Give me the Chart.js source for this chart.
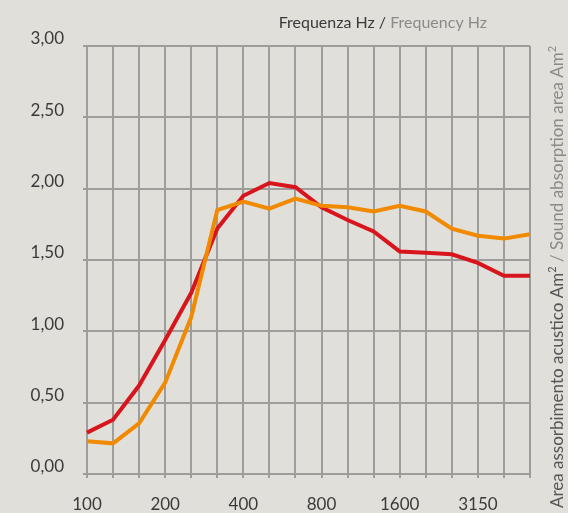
<!DOCTYPE html>
<html>
<head>
<meta charset="utf-8">
<script src="https://cdn.jsdelivr.net/npm/chart.js@4/dist/chart.umd.min.js"></script>
<style>
  html, body { margin: 0; padding: 0; background: #e0dfda; }
  #wrap { width: 568px; height: 513px; position: relative; }
</style>
</head>
<body>
<div id="wrap"><canvas id="chart"></canvas></div>
<script>
// frequenze terzi d'ottava
var frequenze = ["100", "125", "160", "200", "250", "315", "400", "500", "630",
  "800", "1000", "1250", "1600", "2000", "2500", "3150", "4000", "5000"];
var etichette = ["100", "200", "400", "800", "1600", "3150"];
var rosso = [0.29, 0.38, 0.62, 0.94, 1.27, 1.72, 1.95, 2.04, 2.01, 1.87, 1.78, 1.70,
  1.56, 1.55, 1.54, 1.48, 1.39, 1.39];
var arancio = [0.23, 0.215, 0.355, 0.64, 1.10, 1.85, 1.91, 1.86, 1.93, 1.88, 1.87, 1.84,
  1.88, 1.84, 1.72, 1.67, 1.65, 1.68];

var font = "Lato, 'DejaVu Sans', sans-serif";
var grigio = "#9d9d9b";

var titoli = {
  id: "titoli",
  afterDraw: function (chart) {
    var ctx = chart.ctx;
    ctx.save();
    ctx.font = "16px " + font;
    ctx.textBaseline = "alphabetic";
    // titolo in alto a destra
    var a = "Frequenza Hz / ", b = "Frequency Hz";
    var wa = ctx.measureText(a).width, wb = ctx.measureText(b).width;
    var x0 = 487 - wa - wb;
    ctx.fillStyle = "#3a3a3a";
    ctx.fillText(a, x0, 28);
    ctx.fillStyle = "#8a8a88";
    ctx.fillText(b, x0 + wa, 28);

    // titolo verticale a destra
    ctx.translate(563, 277);
    ctx.rotate(-Math.PI / 2);
    var parti = [
      ["Area assorbimento acustico Am", "#555", false],
      ["2", "#555", true],
      [" / Sound absorption area Am", "#8a8a88", false],
      ["2", "#8a8a88", true]
    ];
    var tot = 0;
    parti.forEach(function (p) {
      ctx.font = (p[2] ? "11px " : "17px ") + font;
      tot += ctx.measureText(p[0]).width;
    });
    var x = -tot / 2;
    parti.forEach(function (p) {
      ctx.font = (p[2] ? "11px " : "17px ") + font;
      ctx.fillStyle = p[1];
      ctx.fillText(p[0], x, p[2] ? -7 : 0);
      x += ctx.measureText(p[0]).width;
    });
    ctx.restore();
  }
};

var ctx = document.getElementById("chart").getContext("2d");
var myChart = new Chart(ctx, {
  type: "line",
  data: {
    labels: frequenze,
    datasets: [
      {
        label: "arancio",
        data: arancio,
        borderColor: "#f18a00",
        borderWidth: 4,
        pointRadius: 0,
        tension: 0,
        fill: false,
      },
      {
        label: "rosso",
        data: rosso,
        borderColor: "#d8141c",
        borderWidth: 4,
        pointRadius: 0,
        tension: 0,
        fill: false,
      },
    ],
  },
  options: {
    responsive: true,
    maintainAspectRatio: false,
    animation: false,
    layout: { padding: { top: 46, right: 38, left: 0, bottom: 0 } },
    plugins: { legend: { display: false }, tooltip: { enabled: false } },
    scales: {
      x: {
        grid: { color: grigio, lineWidth: 2, tickLength: 4, drawTicks: true },
        border: { color: grigio, width: 2 },
        afterFit: function (s) { s.height = 39; },
        ticks: {
          autoSkip: false,
          maxRotation: 0,
          padding: 16,
          color: "#3a3a3a",
          font: { family: font, size: 17 },
          callback: function (v, i) {
            var f = frequenze[i];
            return etichette.indexOf(f) >= 0 ? f : "";
          },
        },
      },
      y: {
        min: 0,
        max: 3,
        grid: { color: grigio, lineWidth: 2, tickLength: 4 },
        border: { color: grigio, width: 2 },
        afterFit: function (s) { s.width = 87; },
        ticks: {
          stepSize: 0.5,
          padding: 19,
          labelOffset: -7,
          color: "#3a3a3a",
          font: { family: font, size: 17 },
          callback: function (v) { return v.toFixed(2).replace(".", ","); },
        },
      },
    },
  },
  plugins: [titoli],
});
</script>
</body>
</html>
